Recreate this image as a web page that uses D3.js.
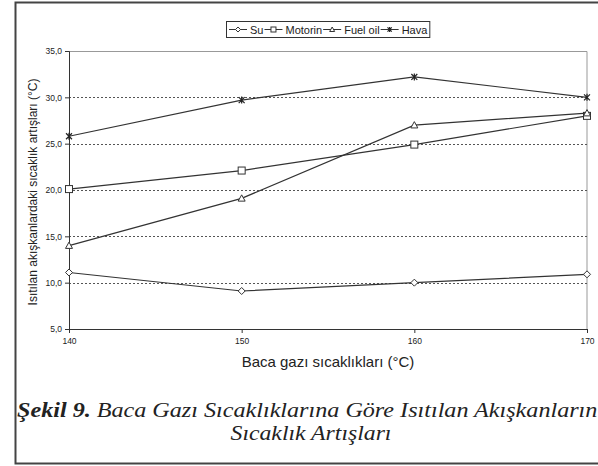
<!DOCTYPE html>
<meta charset="utf-8">
<script src="https://d3js.org/d3.v7.min.js"></script>
<style>
  body { margin: 0; background: #fff; }
  text { font-family: "Liberation Sans", Arial, sans-serif; fill: #222; }
  text.caption { font-family: "Liberation Serif", "Times New Roman", serif; font-style: italic; }
</style>
<div id="chart"></div>
<script>

// data
var xVals = [140, 150, 160, 170];
var su = [11.1, 9.1, 10.0, 10.9];
var motorin = [20.1, 22.1, 24.9, 28.0];
var fuelOil = [14.0, 19.1, 27.0, 28.3];
var hava = [25.8, 29.7, 32.2, 30.0];
var seriesNames = ["Su", "Motorin", "Fuel oil", "Hava"];
var yTicks = [5, 10, 15, 20, 25, 30, 35];

var series = [
  {name: seriesNames[0], values: su, marker: "diamond"},
  {name: seriesNames[1], values: motorin, marker: "square"},
  {name: seriesNames[2], values: fuelOil, marker: "triangle"},
  {name: seriesNames[3], values: hava, marker: "star"}
];

var W = 598, H = 466;
var margin = {top: 51, right: 11, bottom: 137, left: 69},
    width = W - margin.left - margin.right,
    height = H - margin.top - margin.bottom;

var svg = d3.select("#chart").append("svg")
  .attr("width", W).attr("height", H);

// outer frame of the figure
svg.append("rect")
  .attr("x", 15.5).attr("y", 2.5)
  .attr("width", 600).attr("height", 461)
  .attr("fill", "none").attr("stroke", "#444").attr("stroke-width", 2);

var g = svg.append("g")
  .attr("transform", "translate(" + margin.left + "," + margin.top + ")");

var x = d3.scaleLinear().domain([140, 170]).range([0, width]);
var y = d3.scaleLinear().domain([5, 35]).range([height, 0]);

// plot area border (top and right)
g.append("path")
  .attr("d", "M0,0.5H" + width + "V" + height)
  .attr("fill", "none").attr("stroke", "#999").attr("stroke-width", 1);

// dotted gridlines
g.selectAll(".grid").data(yTicks.filter(function(d) { return d > 5 && d < 35; }))
  .enter().append("line")
    .attr("x1", 0).attr("x2", width)
    .attr("y1", function(d) { return Math.round(y(d)) + 0.5; })
    .attr("y2", function(d) { return Math.round(y(d)) + 0.5; })
    .attr("stroke", "#555").attr("stroke-dasharray", "2,2");

// axes
var yAxis = g.append("g")
  .call(d3.axisLeft(y).tickValues(yTicks).tickSize(4).tickPadding(3)
    .tickFormat(function(d) { return d3.format(".1f")(d).replace(".", ","); }));
var xAxis = g.append("g")
  .attr("transform", "translate(0," + height + ")")
  .call(d3.axisBottom(x).tickValues(xVals).tickSize(4).tickPadding(5).tickFormat(d3.format("d")));
[xAxis, yAxis].forEach(function(a) {
  a.select(".domain").attr("stroke", "#333");
  a.selectAll(".tick line").attr("stroke", "#333");
  a.selectAll("text").attr("font-size", 8.5).attr("fill", "#333");
});

// marker drawing
function drawMarker(sel, type, s) {
  if (type === "diamond") {
    sel.append("path").attr("d", "M0,-" + s + "L" + s + ",0L0," + s + "L-" + s + ",0Z")
      .attr("fill", "#fff").attr("stroke", "#333");
  } else if (type === "square") {
    sel.append("rect").attr("x", -s).attr("y", -s).attr("width", 2 * s).attr("height", 2 * s)
      .attr("fill", "#fff").attr("stroke", "#333");
  } else if (type === "triangle") {
    sel.append("path").attr("d", "M0,-" + s + "L" + s + "," + (s * 0.8) + "L-" + s + "," + (s * 0.8) + "Z")
      .attr("fill", "#fff").attr("stroke", "#333");
  } else {
    var k = s * 0.85;
    sel.append("path")
      .attr("d", "M-" + k + ",-" + k + "L" + k + "," + k + "M-" + k + "," + k + "L" + k + ",-" + k + "M0,-" + s + "V" + s)
      .attr("stroke", "#222").attr("stroke-width", 1.2);
  }
}

var line = d3.line()
  .x(function(d, i) { return x(xVals[i]); })
  .y(function(d) { return y(d); });

series.forEach(function(s) {
  g.append("path").datum(s.values)
    .attr("d", line)
    .attr("fill", "none").attr("stroke", "#333").attr("stroke-width", 1.2);
  s.values.forEach(function(v, i) {
    var m = g.append("g").attr("transform", "translate(" + x(xVals[i]) + "," + y(v) + ")");
    drawMarker(m, s.marker, 3.5);
  });
});

// axis titles
svg.append("text")
  .attr("x", margin.left + width / 2).attr("y", 367)
  .attr("text-anchor", "middle").attr("font-size", 15)
  .text("Baca gazı sıcaklıkları (°C)");
svg.append("text")
  .attr("transform", "translate(37,192) rotate(-90)")
  .attr("text-anchor", "middle").attr("font-size", 12)
  .text("Isıtılan akışkanlardaki sıcaklık artışları (°C)");

// legend
var legend = svg.append("g").attr("transform", "translate(226,21)");
var legRect = legend.append("rect").attr("x", 0.5).attr("y", 0.5).attr("height", 16)
  .attr("fill", "#fff").attr("stroke", "#333");
var lx = 3;
series.forEach(function(s) {
  var it = legend.append("g").attr("transform", "translate(" + lx + ",0)");
  it.append("line").attr("x1", 0).attr("x2", 18).attr("y1", 8.5).attr("y2", 8.5)
    .attr("stroke", "#333");
  var m = it.append("g").attr("transform", "translate(9,8.5)");
  drawMarker(m, s.marker, 2.5);
  var t = it.append("text").attr("x", 21).attr("y", 12.5).attr("font-size", 11).text(s.name);
  lx += 21 + t.node().getComputedTextLength() + 1;
});
legRect.attr("width", lx + 1);

// caption
var cap = svg.append("text").attr("class", "caption")
  .attr("transform", "translate(17,417) scale(1.15,1)")
  .attr("font-size", 21);
cap.append("tspan").attr("font-weight", "bold").text("Şekil 9.");
cap.append("tspan").text(" Baca Gazı Sıcaklıklarına Göre Isıtılan Akışkanların");
svg.append("text").attr("class", "caption")
  .attr("transform", "translate(311,440) scale(1.13,1)")
  .attr("text-anchor", "middle")
  .attr("font-size", 21)
  .text("Sıcaklık Artışları");

</script>
